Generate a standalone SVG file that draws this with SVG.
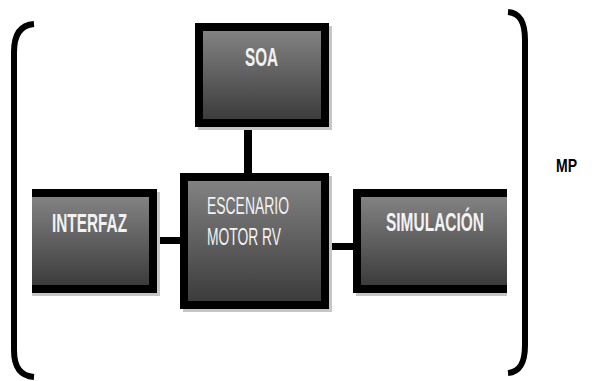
<svg xmlns="http://www.w3.org/2000/svg" width="592" height="381" viewBox="0 0 592 381">
<defs>
<linearGradient id="g" x1="0" y1="0" x2="0" y2="1">
<stop offset="0" stop-color="#828282"/>
<stop offset="1" stop-color="#3c3c3c"/>
</linearGradient>
<style>
.frame{fill:#000}
.fill{fill:url(#g)}
.sh{fill:#c6c6c6}
.lbl{font-family:"Liberation Sans","DejaVu Sans",sans-serif;font-weight:bold;font-size:25px;fill:#f2f2f2}
.lbl2{font-family:"Liberation Sans","DejaVu Sans",sans-serif;font-size:23px;fill:#f2f2f2}
.br{fill:none;stroke:#000;stroke-width:6}
.conn{fill:#000}
</style>
</defs>
<rect width="592" height="381" fill="#fff"/>
<g id="brackets">
<path class="br" d="M 34 24 C 21 25 14 34 14 52 L 14 350 C 14 368 21 376 34 377"/>
<path class="br" d="M 508 12 C 520 13 525 22 525 40 L 525 345 C 525 363 520 372 508 373"/>
</g>
<g id="connectors">
<rect class="conn" x="244" y="125" width="8" height="50"/>
<rect class="conn" x="155" y="237" width="27" height="7"/>
<rect class="conn" x="327" y="243" width="28" height="7"/>
</g>
<g id="soa">
<rect class="sh" x="198" y="26" width="134" height="104"/>
<rect class="frame" x="195" y="23" width="134" height="104"/>
<rect class="fill" x="203" y="31" width="118" height="88"/>
<text class="lbl" x="261.5" y="66" text-anchor="middle" textLength="33" lengthAdjust="spacingAndGlyphs">SOA</text>
</g>
<g id="interfaz">
<rect class="sh" x="32" y="192" width="128" height="104"/>
<rect class="frame" x="32" y="189" width="125" height="104"/>
<rect class="fill" x="32" y="197" width="117" height="88"/>
<text class="lbl" x="52" y="232" textLength="75" lengthAdjust="spacingAndGlyphs">INTERFAZ</text>
</g>
<g id="escenario">
<rect class="sh" x="183" y="176" width="149" height="136"/>
<rect class="frame" x="180" y="173" width="149" height="136"/>
<rect class="fill" x="188" y="181" width="133" height="120"/>
<text class="lbl2" x="207" y="214" textLength="82" lengthAdjust="spacingAndGlyphs">ESCENARIO</text>
<text class="lbl2" x="207" y="245" textLength="74" lengthAdjust="spacingAndGlyphs">MOTOR RV</text>
</g>
<g id="simulacion">
<rect class="sh" x="356" y="192" width="151" height="104"/>
<rect class="frame" x="353" y="189" width="154" height="104"/>
<rect class="fill" x="361" y="197" width="146" height="88"/>
<text class="lbl" x="386" y="231" textLength="98" lengthAdjust="spacingAndGlyphs">SIMULACIÓN</text>
</g>
<g id="mp">
<text x="556" y="172" font-family="Liberation Sans, DejaVu Sans, sans-serif" font-weight="bold" font-size="19" fill="#000" textLength="21" lengthAdjust="spacingAndGlyphs">MP</text>
</g>
</svg>
